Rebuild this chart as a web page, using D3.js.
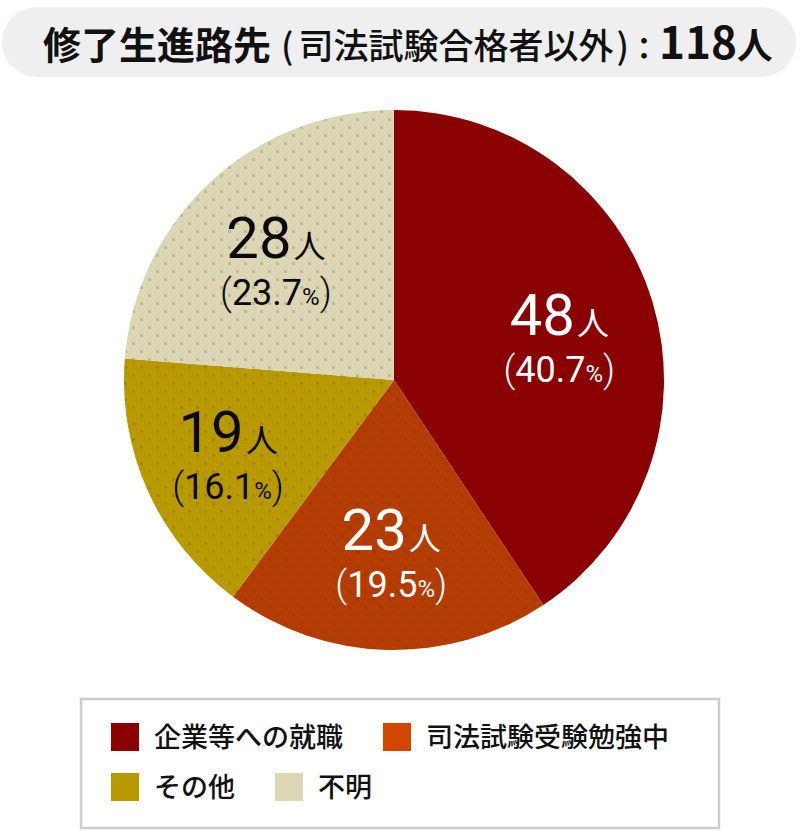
<!DOCTYPE html>
<html>
<head>
<meta charset="utf-8">
<script src="https://cdn.jsdelivr.net/npm/d3@7"></script>
<style>
  body { margin: 0; background: #fff; }
  svg { display: block; }
</style>
</head>
<body>
<svg id="mainSVG" width="800" height="834"></svg>
<script>
// データ
var categories = ["企業等への就職", "司法試験受験勉強中", "その他", "不明"];
var counts = [48, 23, 19, 28];
var unitLabel = "人";
var titleMain = "修了生進路先";
var titleSub = "司法試験合格者以外";
var titleTotal = "118";

// 色
var pieColors = ["#8b0000", "#b43c00", "#b89a00", "#ddd6b4"];
var legendColors = ["#8b0000", "#d24700", "#b89a00", "#ddd6b4"];
var labelColors = ["#fff", "#fff", "#0a0a0a", "#0a0a0a"];
// ラベル位置の微調整 (px)
var labelNudge = [[-7, 7], [2, -10], [-2, -2], [4, 10]];

var mainSVG = d3.select("#mainSVG");
var cjk = "'Noto Sans CJK JP', 'Noto Sans', sans-serif";
var num = "Roboto, 'Noto Sans CJK JP', sans-serif";

// ドット柄
var defs = mainSVG.append("defs");
var pat = defs.append("pattern")
    .attr("id", "dots")
    .attr("patternUnits", "userSpaceOnUse")
    .attr("width", 16).attr("height", 16);
pat.append("rect").attr("x", 2).attr("y", 2).attr("width", 3).attr("height", 3)
    .attr("fill", "rgba(40,40,40,0.17)");
pat.append("rect").attr("x", 10).attr("y", 10).attr("width", 3).attr("height", 3)
    .attr("fill", "rgba(40,40,40,0.17)");

// タイトル
mainSVG.append("rect")
    .attr("x", 2).attr("y", 7)
    .attr("width", 794).attr("height", 70)
    .attr("rx", 35).attr("ry", 35)
    .attr("fill", "#efefef");

var title = mainSVG.append("text")
    .attr("x", 43).attr("y", 59)
    .attr("font-family", cjk)
    .attr("font-weight", 700)
    .attr("fill", "#111");
title.append("tspan").attr("font-size", 38).text(titleMain);
title.append("tspan").attr("font-size", 35).attr("font-weight", 500).attr("dx", 10).text("(");
title.append("tspan").attr("font-size", 35).attr("font-weight", 500).attr("dx", 5).text(titleSub);
title.append("tspan").attr("font-size", 35).attr("font-weight", 500).attr("dx", 3).text(")");
title.append("tspan").attr("font-size", 30).text("：");
title.append("tspan").attr("font-size", 44).text(titleTotal);
title.append("tspan").attr("font-size", 36).text(unitLabel);

// 円グラフ
var radius = 270;
var cx = 394, cy = 380;
var total = d3.sum(counts);

var pie = d3.pie().sort(null).value(function (d) { return d; });
var arcs = pie(counts);
var arc = d3.arc().innerRadius(0).outerRadius(radius);
var labelArc = d3.arc().innerRadius(180).outerRadius(180);

var pieGroup = mainSVG.append("g")
    .attr("transform", "translate(" + cx + "," + cy + ")");

pieGroup.selectAll(".slice")
    .data(arcs)
    .enter().append("path")
    .attr("class", "slice")
    .attr("d", arc)
    .attr("fill", function (d, i) { return pieColors[i]; });

pieGroup.selectAll(".sliceDots")
    .data(arcs)
    .enter().append("path")
    .attr("class", "sliceDots")
    .attr("d", arc)
    .attr("fill", "url(#dots)");

// ラベル
var labels = pieGroup.selectAll(".lbl")
    .data(arcs)
    .enter().append("g")
    .attr("class", "lbl")
    .attr("transform", function (d, i) {
        var c = labelArc.centroid(d);
        return "translate(" + (c[0] + labelNudge[i][0]) + "," + (c[1] + labelNudge[i][1]) + ")";
    })
    .attr("fill", function (d, i) { return labelColors[i]; })
    .attr("text-anchor", "middle");

var numText = labels.append("text").attr("y", 0);
numText.append("tspan")
    .attr("font-family", num)
    .attr("font-size", 58)
    .text(function (d) { return d.data; });
numText.append("tspan")
    .attr("font-family", cjk)
    .attr("font-size", 32)
    .attr("dx", 2)
    .text(unitLabel);

var pctText = labels.append("text").attr("y", 47)
    .attr("font-family", num);
pctText.append("tspan").attr("font-size", 37).attr("font-weight", 300).text("(");
pctText.append("tspan").attr("font-size", 36)
    .text(function (d) { return (d.data * 100 / total).toFixed(1); });
pctText.append("tspan").attr("font-size", 24).text("%");
pctText.append("tspan").attr("font-size", 37).attr("font-weight", 300).text(")");

// 凡例
mainSVG.append("rect")
    .attr("x", 81).attr("y", 699)
    .attr("width", 638).attr("height", 129)
    .attr("fill", "none")
    .attr("stroke", "#cccccc")
    .attr("stroke-width", 2.5);

var legendRows = [[0, 1], [2, 3]];
var rowTop = [723, 773];
legendRows.forEach(function (row, r) {
    var x = 111;
    row.forEach(function (i) {
        mainSVG.append("rect")
            .attr("x", x).attr("y", rowTop[r])
            .attr("width", 28).attr("height", 28)
            .attr("fill", legendColors[i]);
        var t = mainSVG.append("text")
            .attr("x", x + 43).attr("y", rowTop[r] + 24)
            .attr("font-family", cjk)
            .attr("font-size", 27)
            .attr("font-weight", 500)
            .attr("fill", "#111")
            .text(categories[i]);
        x = x + 43 + t.node().getComputedTextLength() + 40;
    });
});
</script>
</body>
</html>
